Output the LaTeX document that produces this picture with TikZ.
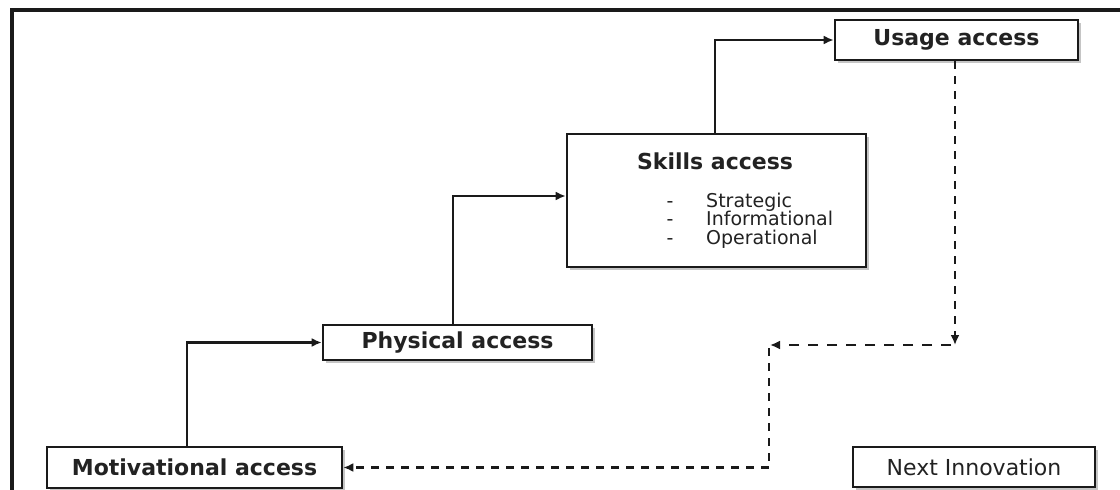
\documentclass[tikz,border=0pt]{standalone}
\usepackage{fontspec}
\setmainfont{DejaVu Sans}
\usetikzlibrary{arrows.meta,shadows}
\definecolor{ink}{HTML}{1A1A1A}
\definecolor{txt}{HTML}{222222}
\begin{document}
\begin{tikzpicture}[x=1pt,y=-1pt,
  box/.style={draw=ink, line width=2.6pt, fill=white, inner sep=0pt, text=txt,
    drop shadow={shadow xshift=3pt, shadow yshift=-3pt, fill=black!50, opacity=0.45}},
  boldlbl/.style={font=\fontsize{22}{26}\selectfont\bfseries},
  plainlbl/.style={font=\fontsize{22}{26}\selectfont},
  itemlbl/.style={font=\fontsize{19}{22}\selectfont, text=txt, inner sep=0pt},
  conn/.style={draw=ink, line width=2.4pt, -{Latex[length=10pt,width=9pt]}},
  hdconn/.style={conn, dash pattern=on 10pt off 9pt},
  vdconn/.style={conn, dash pattern=on 8pt off 7pt}]
\useasboundingbox (0,0) rectangle (1120,490);
\fill[white] (0,0) rectangle (1120,490);
% frame
\draw[ink, line width=3.5pt] (12,492) -- (12,10) -- (1122,10);
% boxes
\node[box, boldlbl, minimum width=295pt, minimum height=41pt] (mot) at (194.5,467.5) {Motivational access};
\node[box, boldlbl, minimum width=269pt, minimum height=35pt] (phys) at (457.5,342.5) {Physical access};
\node[box, minimum width=299pt, minimum height=133pt] (skills) at (716.5,200.5) {};
\node[box, boldlbl, minimum width=243pt, minimum height=40pt] (usage) at (956.5,40) {Usage access};
\node[box, plainlbl, minimum width=242pt, minimum height=40pt] (next) at (974,467) {Next Innovation};
% skills content
\node[boldlbl, text=txt, anchor=base, inner sep=0pt] (skt) at (715,169) {Skills access};
\node[itemlbl, anchor=base] (d1) at (670,207) {-};
\node[itemlbl, anchor=base] (d2) at (670,225.5) {-};
\node[itemlbl, anchor=base] (d3) at (670,244) {-};
\node[itemlbl, anchor=base west] (i1) at (706,207) {Strategic};
\node[itemlbl, anchor=base west] (i2) at (706,225.5) {Informational};
\node[itemlbl, anchor=base west] (i3) at (706,244) {Operational};
% solid connectors
\draw[conn] ([xshift=-7.5pt]mot.north) |- (phys.west);
\draw[conn] ([xshift=-4.5pt]phys.north) |- ([yshift=4.5pt]skills.west);
\draw[conn] ([xshift=-1.5pt]skills.north) |- (usage.west);
% dashed return path
\coordinate (c1) at (955,345);
\coordinate (c2) at (770,345);
\draw[vdconn] ([xshift=-1.5pt]usage.south) -- (c1);
\draw[hdconn] ([xshift=-4pt]c1) -- (c2);
\draw[vdconn] ([xshift=-1pt,yshift=-3pt]c2) |- (mot.east);
\end{tikzpicture}
\end{document}
